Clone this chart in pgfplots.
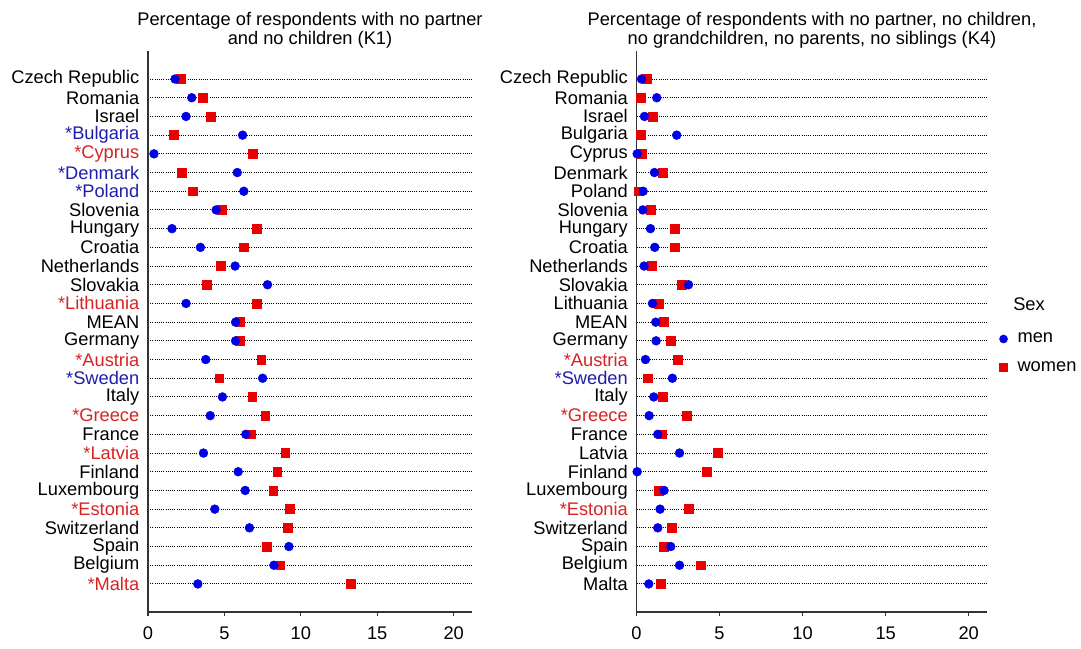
\documentclass[border=0pt]{standalone}
\usepackage{fontspec}
\setmainfont{Liberation Sans}
\usepackage{pgfplots}
\usepackage{pgfplotstable}
\pgfplotsset{compat=1.18}
\definecolor{mblue}{RGB}{0,0,230}
\definecolor{wred}{RGB}{235,0,0}
\definecolor{lblue}{RGB}{30,30,170}
\definecolor{lred}{RGB}{215,35,35}

\pgfplotstableread{
y men women
27 1.77 2.16
26 2.86 3.56
25 2.49 4.11
24 6.19 1.70
23 0.39 6.84
22 5.84 2.21
21 6.27 2.95
20 4.46 4.81
19 1.57 7.10
18 3.43 6.27
17 5.70 4.74
16 7.82 3.85
15 2.49 7.13
14 5.73 6.03
13 5.73 6.03
12 3.78 7.41
11 7.50 4.66
10 4.87 6.82
9 4.07 7.67
8 6.40 6.75
7 3.63 8.98
6 5.90 8.46
5 6.36 8.20
4 4.37 9.29
3 6.64 9.16
2 9.22 7.78
1 8.24 8.66
0 3.26 13.25
}\kone

\pgfplotstableread{
y men women
27 0.30 0.62
26 1.22 0.26
25 0.48 0.96
24 2.42 0.26
23 0.04 0.34
22 1.08 1.58
21 0.40 0.14
20 0.38 0.88
19 0.84 2.30
18 1.10 2.28
17 0.46 0.94
16 3.13 2.72
15 0.96 1.34
14 1.16 1.62
13 1.18 2.04
12 0.54 2.50
11 2.16 0.66
10 1.04 1.60
9 0.76 3.03
8 1.28 1.52
7 2.59 4.87
6 0.04 4.25
5 1.66 1.34
4 1.42 3.13
3 1.28 2.14
2 2.06 1.66
1 2.59 3.87
0 0.74 1.46
}\kfour

\newcommand{\fs}{\fontsize{13.7}{14}\selectfont}

\pgfplotsset{
  dotplot/.style={
    scale only axis, height=420.75pt,
    xmin=0, ymin=-1.5, ymax=28.5,
    axis lines=left,
    axis line style={-, black!80, line width=0.8pt},
    xtick={0,5,...,20}, ytick={0,...,27},
    tick align=outside, major tick length=3pt,
    y tick style={draw=none},
    x tick style={black!80, line width=0.8pt},
    ymajorgrids,
    grid style={black, line width=0.75pt, dash pattern=on 0.75pt off 0.9pt},
    ticklabel style={font=\fs},
    x tick label style={yshift=-4.4pt},
    /pgf/number format/assume math mode=true,
    clip=false,
  },
  menstyle/.style={only marks, mark=*, mark size=3.3pt, mark options={draw=mblue, fill=mblue}},
  womenstyle/.style={only marks, mark=square*, mark size=3.3pt, mark options={draw=wred, fill=wred}},
}

\begin{document}
\begin{tikzpicture}
\begin{axis}[dotplot, width=243pt, xmax=21.2,
  at={(111pt,27.75pt)}, anchor=south west,
  yticklabels={\textcolor{lred}{*Malta}, Belgium, Spain, Switzerland, \textcolor{lred}{*Estonia}, Luxembourg, Finland, \textcolor{lred}{*Latvia}, France, \textcolor{lred}{*Greece}, Italy, \textcolor{lblue}{*Sweden}, \textcolor{lred}{*Austria}, Germany, MEAN, \textcolor{lred}{*Lithuania}, Slovakia, Netherlands, Croatia, Hungary, Slovenia, \textcolor{lblue}{*Poland}, \textcolor{lblue}{*Denmark}, \textcolor{lred}{*Cyprus}, \textcolor{lblue}{*Bulgaria}, Israel, Romania, Czech Republic},
]
\addplot[womenstyle] table[x=women, y=y] {\kone};
\addplot[menstyle] table[x=men, y=y] {\kone};
\end{axis}

\begin{axis}[dotplot, width=262.875pt, xmax=21.1,
  at={(477.375pt,27.75pt)}, anchor=south west,
  yticklabels={Malta, Belgium, Spain, Switzerland, \textcolor{lred}{*Estonia}, Luxembourg, Finland, Latvia, France, \textcolor{lred}{*Greece}, Italy, \textcolor{lblue}{*Sweden}, \textcolor{lred}{*Austria}, Germany, MEAN, Lithuania, Slovakia, Netherlands, Croatia, Hungary, Slovenia, Poland, Denmark, Cyprus, Bulgaria, Israel, Romania, Czech Republic},
  legend style={at={(1.035,0.50)}, anchor=north west, draw=none, fill=none,
    inner sep=0pt, font=\fs, row sep=10.5pt, column sep=6.5pt,
    nodes={inner sep=1pt}},
  legend cell align=left,
  legend image code/.code={\draw[#1, mark size=3pt] plot coordinates {(0pt,0pt)};},
]
\addplot[womenstyle, forget plot] table[x=women, y=y] {\kfour};
\addplot[menstyle, forget plot] table[x=men, y=y] {\kfour};
\addlegendimage{menstyle}
\addlegendentry{men}
\addlegendimage{womenstyle}
\addlegendentry{women}
\end{axis}

\node[anchor=base, font=\fs, inner sep=0pt] at (232.5pt,467.25pt) {Percentage of respondents with no partner};
\node[anchor=base, font=\fs, inner sep=0pt] at (232.5pt,453.4pt) {and no children (K1)};
\node[anchor=base, font=\fs, inner sep=0pt] at (609pt,467.25pt) {Percentage of respondents with no partner, no children,};
\node[anchor=base, font=\fs, inner sep=0pt] at (609pt,453.4pt) {no grandchildren, no parents, no siblings (K4)};
\node[anchor=base west, font=\fs, inner sep=0pt] at (759.75pt,253.7pt) {Sex};

\pgfresetboundingbox
\path (0pt,0pt) rectangle (810.75pt,486.75pt);
\end{tikzpicture}
\end{document}
